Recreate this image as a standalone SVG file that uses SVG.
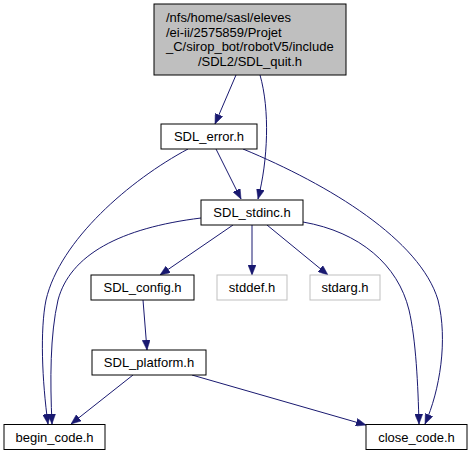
<svg xmlns="http://www.w3.org/2000/svg" width="472" height="456" viewBox="0 0 472 456">
<style>
  text { font-family: "Liberation Sans", Arial, sans-serif; font-size: 13px; fill: #000; }
  .c { text-anchor: middle; }
  .box { fill: #fff; stroke: #000; stroke-width: 1; }
  .root { fill: #bfbfbf; stroke: #000; stroke-width: 1; }
  .ext { fill: #fff; stroke: #bfbfbf; stroke-width: 1; }
  .edge { fill: none; stroke: #191970; stroke-width: 1; marker-end: url(#arr); }
</style>
<defs>
  <marker id="arr" markerUnits="userSpaceOnUse" markerWidth="10" markerHeight="8" refX="10" refY="4" orient="auto">
    <path d="M0,0 L10,4 L0,8 z" fill="#191970" stroke="#191970" stroke-width="0.5"/>
  </marker>
</defs>
<rect width="472" height="456" fill="#fff"/>
<g id="edges">
  <path class="edge" d="M236,75 L215,124"/>
  <path class="edge" d="M260,75 C270,110 268,160 258,199"/>
  <path class="edge" d="M216,149 L241,199"/>
  <path class="edge" d="M188,149 C130,180 60,240 46,300 C40,330 42,380 48,424"/>
  <path class="edge" d="M201,218 C120,228 70,255 58,300 C50,335 50,380 52,424"/>
  <path class="edge" d="M233,225 L160,275"/>
  <path class="edge" d="M252,225 L252,275"/>
  <path class="edge" d="M267,225 L328,275"/>
  <path class="edge" d="M303,222 C360,232 398,265 409,310 C416,340 418,385 419,424"/>
  <path class="edge" d="M243,149 C330,185 420,240 438,300 C448,340 440,390 425,424"/>
  <path class="edge" d="M143,300 L147,350"/>
  <path class="edge" d="M133,375 L71,424"/>
  <path class="edge" d="M192,375 L366,425"/>
</g>
<g id="node_root">
  <rect class="root" x="154" y="4" width="192" height="71"/>
  <text x="166" y="22">/nfs/home/sasl/eleves</text>
  <text x="166" y="36.5">/ei-ii/2575859/Projet</text>
  <text x="166" y="51">_C/sirop_bot/robotV5/include</text>
  <text class="c" x="250" y="65.5">/SDL2/SDL_quit.h</text>
</g>
<g id="node_sdl_error">
  <rect class="box" x="161" y="124" width="96" height="25"/>
  <text class="c" x="209" y="141">SDL_error.h</text>
</g>
<g id="node_sdl_stdinc">
  <rect class="box" x="201" y="200" width="102" height="25"/>
  <text class="c" x="252" y="217">SDL_stdinc.h</text>
</g>
<g id="node_sdl_config">
  <rect class="box" x="91" y="275" width="103" height="25"/>
  <text class="c" x="142.5" y="292">SDL_config.h</text>
</g>
<g id="node_stddef">
  <rect class="ext" x="217" y="275" width="70" height="25"/>
  <text class="c" x="252" y="292">stddef.h</text>
</g>
<g id="node_stdarg">
  <rect class="ext" x="310" y="275" width="70" height="25"/>
  <text class="c" x="345" y="292">stdarg.h</text>
</g>
<g id="node_sdl_platform">
  <rect class="box" x="92" y="350" width="114" height="25"/>
  <text class="c" x="149" y="367">SDL_platform.h</text>
</g>
<g id="node_begin_code">
  <rect class="box" x="4" y="424.5" width="101" height="25"/>
  <text class="c" x="54.5" y="441.5">begin_code.h</text>
</g>
<g id="node_close_code">
  <rect class="box" x="366" y="424.5" width="101" height="25"/>
  <text class="c" x="416.5" y="441.5">close_code.h</text>
</g>
</svg>
